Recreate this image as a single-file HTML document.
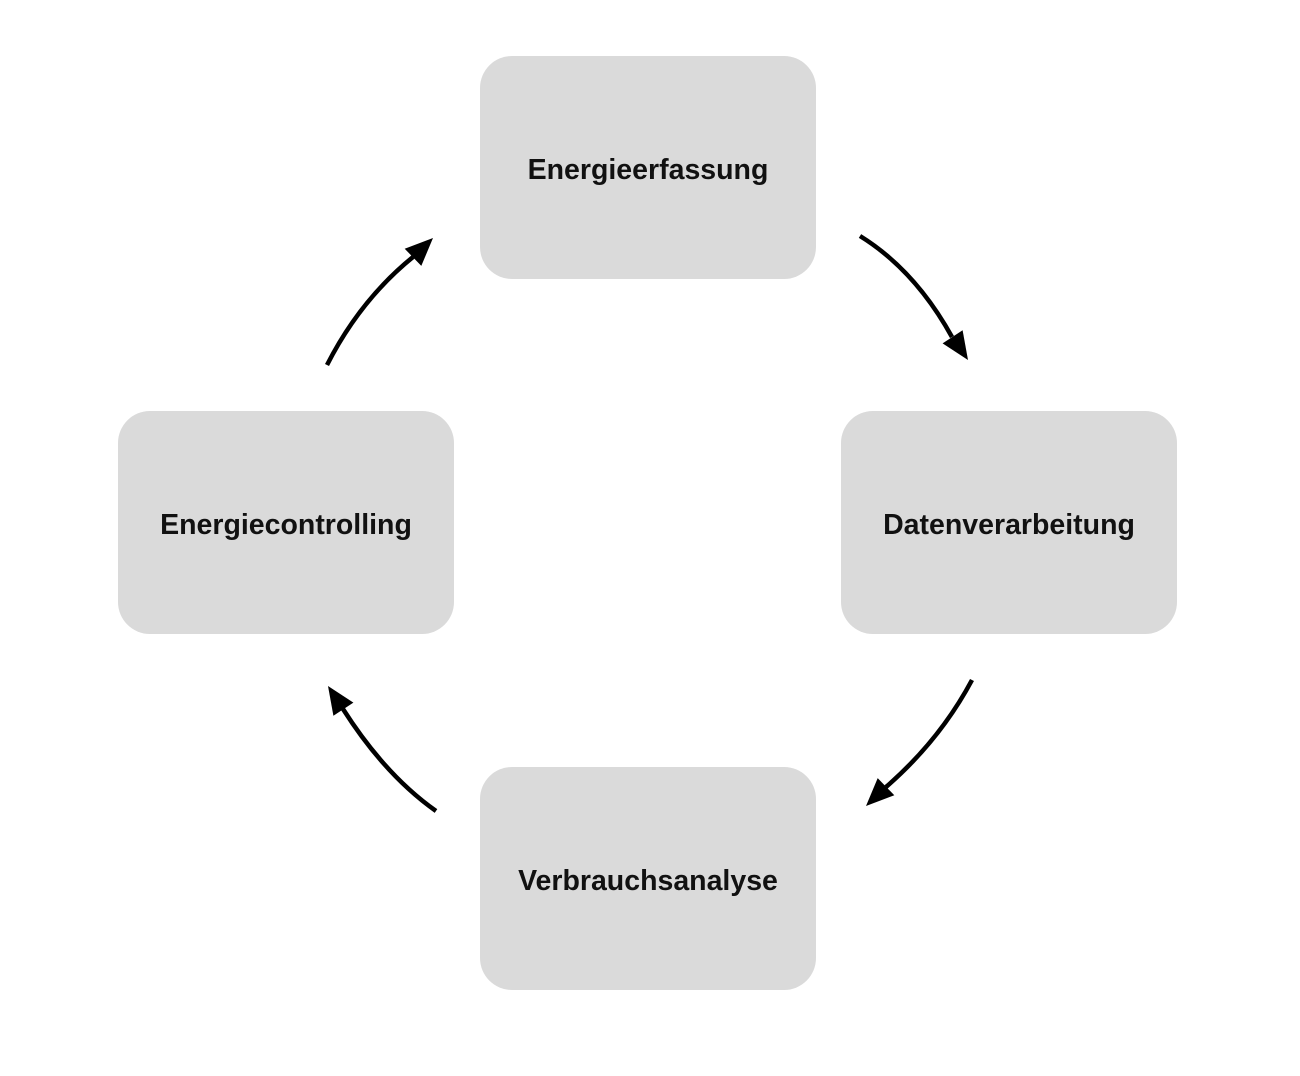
<!DOCTYPE html>
<html><head><meta charset="utf-8"><style>
html,body{margin:0;padding:0;background:#fff;}
.b{position:absolute;width:336px;height:223px;background:#dadada;border-radius:32px;display:flex;align-items:center;justify-content:center;font-family:"Liberation Sans",sans-serif;font-weight:bold;font-size:28.5px;color:#111;}
.b span{position:relative;top:3px}
</style></head><body>
<div style="position:relative;width:1300px;height:1076px;overflow:hidden">
<div class="b" style="left:480px;top:56px"><span>Energieerfassung</span></div>
<div class="b" style="left:118px;top:411px"><span>Energiecontrolling</span></div>
<div class="b" style="left:841px;top:411px"><span>Datenverarbeitung</span></div>
<div class="b" style="left:480px;top:767px"><span>Verbrauchsanalyse</span></div>
<svg width="1300" height="1076" style="position:absolute;left:0;top:0">
<g fill="none" stroke="#000" stroke-width="4.5">
<path d="M860,236 Q915,270 952,337"/>
<path d="M972,680 Q940,740 886,787"/>
<path d="M436,811 Q385,775 343,709"/>
<path d="M327,365 Q360,300 413,257"/>
</g>
<g fill="#000">
<polygon points="968,360 962.6,330.2 942.6,343.4"/>
<polygon points="866,806 894.3,795.3 877.7,778.1"/>
<polygon points="328,686 353.4,702.6 333.4,715.8"/>
<polygon points="433,238 421.3,265.9 404.7,248.7"/>
</g>
</svg>
</div>
</body></html>
